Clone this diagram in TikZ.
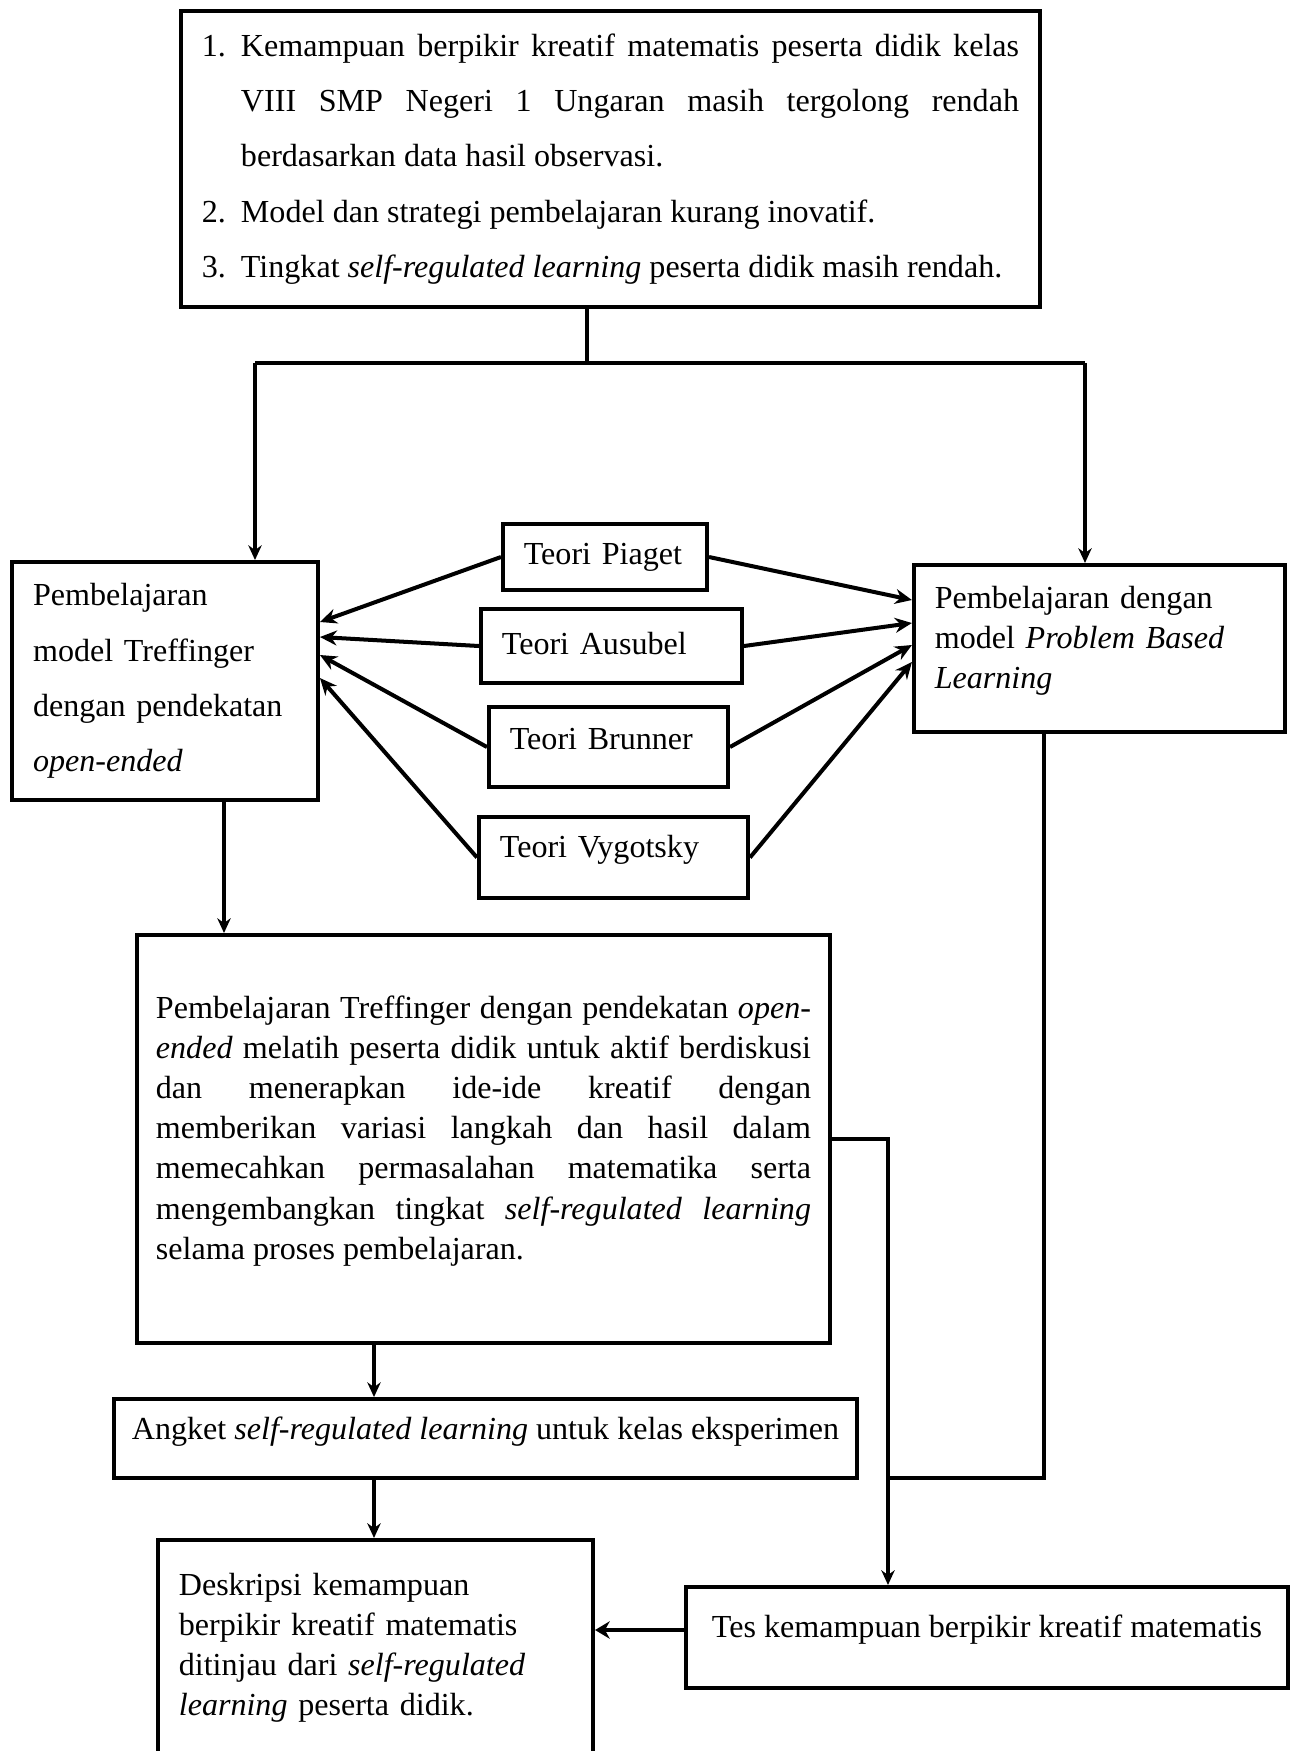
\documentclass[tikz,border=0pt]{standalone}
\usepackage{fontspec}
\setmainfont{Liberation Serif}
\usetikzlibrary{arrows.meta,positioning,calc}
\setlength{\parindent}{0pt}
\newcommand{\butir}[2]{\hangindent=14.6pt\hangafter=1\makebox[14.6pt][l]{#1}#2\par}
\newcommand{\naik}[1]{\par\vspace{#1}\hrule height 0pt}

\begin{document}
\begin{tikzpicture}[x=0.374pt, y=-0.374pt,
    box/.style={rectangle, draw, line width=1.5pt, inner xsep=7.8pt, inner ysep=0pt, font=\fontsize{12}{15}\selectfont},
    wide/.style={font=\fontsize{12}{20.7}\selectfont},
    teori/.style={box, align=left},
    arr/.style={-{Stealth[length=5.5pt,width=5pt]}, line width=1.2pt},
    tarr/.style={-{Stealth[length=6.3pt,width=5.6pt]}, line width=1.5pt},
    conn/.style={line width=1.2pt}
]
\useasboundingbox (0,0) rectangle (1294,1751);

\node[box, wide, minimum width=321.3pt, minimum height=110.7pt, text width=305.6pt, align=justify] (masalah) at (610.5,159)
  {\butir{1.}{Kemampuan berpikir kreatif matematis peserta didik kelas\linebreak VIII SMP Negeri 1 Ungaran masih tergolong rendah\linebreak berdasarkan data hasil observasi.}\butir{2.}{Model dan strategi pembelajaran kurang inovatif.}\butir{3.}{Tingkat \textit{self-regulated learning} peserta didik masih rendah.}};

\node[box, wide, minimum width=114.4pt, minimum height=89pt, text width=98.7pt, align=left] (treff) at (165,681)
  {Pembelajaran\\model Treffinger\\dengan pendekatan\\\textit{open-ended}};
\node[box, minimum width=138.8pt, minimum height=62.5pt, text width=123.2pt, align=left] (pbl) at (1099.5,648.5)
  {Pembelajaran dengan\\model \textit{Problem Based}\\\textit{Learning}\naik{6pt}};

\node[teori, minimum width=76.3pt, minimum height=24.7pt, text width=60.7pt] (piaget) at (605,557) {Teori Piaget};
\node[teori, minimum width=97.6pt, minimum height=27.7pt, text width=82pt] (ausubel) at (611.5,646) {Teori Ausubel\naik{2pt}};
\node[teori, minimum width=89.4pt, minimum height=29.9pt, text width=73.8pt] (brunner) at (608.5,747) {Teori Brunner\naik{6pt}};
\node[teori, minimum width=100.6pt, minimum height=30.3pt, text width=85pt] (vygotsky) at (613.5,857.5) {Teori Vygotsky\naik{6pt}};

\node[box, inner xsep=7.1pt, minimum width=259.2pt, minimum height=152.6pt, text width=245pt, align=justify] (uraian) at (483.5,1139)
  {Pembelajaran Treffinger dengan pendekatan \textit{open-}\linebreak \textit{ended} melatih peserta didik untuk aktif berdiskusi\linebreak dan menerapkan ide-ide kreatif dengan\linebreak memberikan variasi langkah dan hasil dalam\linebreak memecahkan permasalahan matematika serta\linebreak mengembangkan tingkat \textit{self-regulated learning}\linebreak selama proses pembelajaran.\naik{6pt}};

\node[box, inner xsep=4pt, minimum width=277.9pt, minimum height=29.5pt, text depth=7.6pt] (angket) at (485.5,1438.5)
  {Angket \textit{self-regulated learning} untuk kelas eksperimen};
\node[box, minimum width=162.7pt, minimum height=80.8pt, text width=147.1pt, align=left] (deskripsi) at (375.5,1648)
  {Deskripsi kemampuan\\berpikir kreatif matematis\\ditinjau dari \textit{self-regulated}\\\textit{learning} peserta didik.};
\node[box, minimum width=225.1pt, minimum height=37.8pt, text depth=8.6pt] (tes) at (987,1637.5)
  {Tes kemampuan berpikir kreatif matematis};

\coordinate (split) at (587,363);
\coordinate (splitL) at (255,363);
\coordinate (splitR) at (1085,363);
\coordinate (colL) at (224,0);
\coordinate (colM) at (374,0);
\coordinate (colR) at (888,0);
\coordinate (colP) at (1044,0);
\coordinate (meet) at (888,1478);
\coordinate (rowT) at (0,1630);

\draw[conn] (masalah.south -| split) -- (split);
\draw[conn] (splitL) -- (splitR);
\draw[arr] (splitL) -- (splitL |- treff.north);
\draw[arr] (splitR) -- (splitR |- pbl.north);

\draw[tarr] (piaget.west) -- ($(treff.east)+(0,-59)$);
\draw[tarr] (ausubel.west) -- ($(treff.east)+(0,-44)$);
\draw[tarr] (brunner.west) -- ($(treff.east)+(0,-26)$);
\draw[tarr] (vygotsky.west) -- ($(treff.east)+(0,-3)$);
\draw[tarr] (piaget.east) -- ($(pbl.west)+(0,-48.5)$);
\draw[tarr] (ausubel.east) -- ($(pbl.west)+(0,-25.5)$);
\draw[tarr] (brunner.east) -- ($(pbl.west)+(0,-3.5)$);
\draw[tarr] (vygotsky.east) -- ($(pbl.west)+(0,13.5)$);

\draw[arr] (treff.south -| colL) -- (uraian.north -| colL);
\draw[arr] (uraian.south -| colM) -- (angket.north -| colM);
\draw[arr] (angket.south -| colM) -- (deskripsi.north -| colM);
\draw[arr] (uraian.east) -| (colR |- tes.north);
\draw[conn] (pbl.south -| colP) |- (meet);
\draw[-{Stealth[length=5.5pt,width=6.5pt]}, line width=1.8pt] (tes.west |- rowT) -- (deskripsi.east |- rowT);
\end{tikzpicture}
\end{document}
